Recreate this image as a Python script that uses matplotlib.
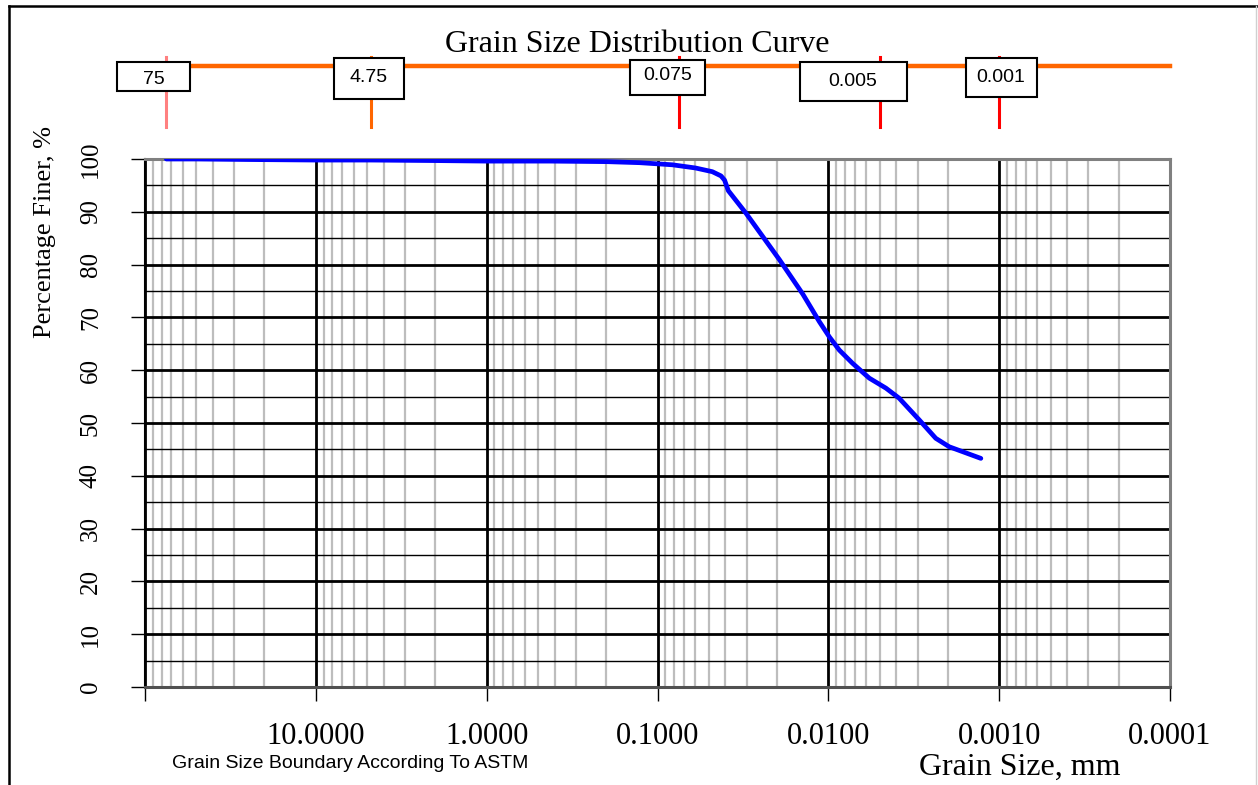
import numpy as np
import matplotlib
matplotlib.use("Agg")
import matplotlib.pyplot as plt
from matplotlib.lines import Line2D
from matplotlib.patches import Rectangle
from matplotlib.transforms import blended_transform_factory
from matplotlib.ticker import FixedLocator, NullFormatter

# ---- data ----
grain_size = [75, 50, 25, 10, 4.75, 2, 1, 0.425, 0.2, 0.127, 0.0817, 0.0600,
              0.0478, 0.0425, 0.0405, 0.0395, 0.0385, 0.0303, 0.0193, 0.0141,
              0.01129, 0.00986, 0.00862, 0.00721, 0.00576, 0.00460, 0.00385,
              0.00294, 0.00235, 0.00196, 0.00128]
percent_finer = [100, 100, 99.9, 99.8, 99.8, 99.7, 99.6, 99.6, 99.5, 99.3, 98.9, 98.3,
                 97.6, 96.8, 96.0, 95.0, 94.0, 89.7, 80.9, 74.4,
                 69.2, 66.3, 63.8, 61.3, 58.5, 56.6, 54.7,
                 50.6, 47.1, 45.5, 43.3]

x_ticks = [100, 10, 1, 0.1, 0.01, 0.001, 0.0001]
x_tick_labels = ["", "10.0000", "1.0000", "0.1000", "0.0100", "0.0010", "0.0001"]
y_ticks = [0, 10, 20, 30, 40, 50, 60, 70, 80, 90, 100]

boundary_sizes = [75, 4.75, 0.075, 0.005, 0.001]
boundary_labels = ["75", "4.75", "0.075", "0.005", "0.001"]
boundary_colors = ["#FF8080", "#FF6600", "#FF0000", "#FF0000", "#FF0000"]
# label box layout in pixels: (left, top, right, bottom, text_cx, text_cy)
boundary_boxes = [(117, 62, 190, 91, 154, 80),
                  (334, 58, 404, 99, 369, 77),
                  (630, 60, 705, 95, 668, 75),
                  (800, 62, 907, 101, 853, 81),
                  (966, 58, 1037, 97, 1001, 78)]

W, H = 1258, 785
def fx(px):
    return px / W
def fy(py):
    return 1 - py / H

serif = ["Liberation Serif", "DejaVu Serif"]
sans = ["Liberation Sans", "DejaVu Sans"]

fig = plt.figure(figsize=(W / 100, H / 100), dpi=100)
ax = fig.add_axes([fx(145), fy(687), fx(1170) - fx(145), fy(159) - fy(687)])

ax.set_xscale("log")
ax.set_xlim(100, 0.0001)
ax.set_ylim(0, 100)

# grid
minor_x = [m * 10.0 ** e for e in range(-4, 2) for m in range(2, 10)]
for v in minor_x:
    ax.axvline(v, color="#BDBDBD", lw=1.6, zorder=1)
for v in x_ticks:
    ax.axvline(v, color="black", lw=2.0, zorder=2)
for v in range(5, 100, 10):
    ax.axhline(v, color="black", lw=1.0, zorder=2)
for v in y_ticks:
    ax.axhline(v, color="black", lw=2.0, zorder=2)

ax.plot(grain_size, percent_finer, color="#0000FF", lw=3.4, zorder=5,
        solid_capstyle="round", solid_joinstyle="round")

ax.xaxis.set_major_locator(FixedLocator(x_ticks))
ax.xaxis.set_minor_locator(FixedLocator([]))
ax.xaxis.set_minor_formatter(NullFormatter())
ax.set_xticklabels(x_tick_labels)
ax.set_yticks(y_ticks)
ax.set_yticklabels([str(v) for v in y_ticks], rotation=90, va="center")

ax.tick_params(axis="x", direction="out", length=10, width=1, pad=15,
               labelsize=22)
ax.tick_params(axis="y", direction="out", length=10, width=1, pad=21,
               labelsize=18)
for lab in ax.get_xticklabels() + ax.get_yticklabels():
    lab.set_family(serif)

for side in ["top", "right", "bottom"]:
    ax.spines[side].set_color("#808080")
    ax.spines[side].set_linewidth(2.2)
ax.spines["left"].set_color("black")
ax.spines["left"].set_linewidth(1.5)
ax.spines["bottom"].set_color("#505050")

# texts
fig.text(fx(637), fy(44), "Grain Size Distribution Curve", family=serif,
         fontsize=23, ha="center", va="center")
fig.text(fx(45), fy(232), "Percentage Finer, %", family=serif, fontsize=19,
         rotation=90, ha="center", va="center")
fig.text(fx(172), fy(764), "Grain Size Boundary According To ASTM", family=sans,
         fontsize=14, ha="left", va="center")
fig.text(fx(1020), fy(767), "Grain Size, mm", family=serif, fontsize=23,
         ha="center", va="center")

# ASTM boundary bar
bt = blended_transform_factory(ax.transData, fig.transFigure)
ba = blended_transform_factory(ax.transAxes, fig.transFigure)
fig.add_artist(Line2D([0.005, 1.0], [fy(66), fy(66)], transform=ba,
                      color="#FF6600", lw=3.2, zorder=2))
for s, c in zip(boundary_sizes, boundary_colors):
    fig.add_artist(Line2D([s, s], [fy(57), fy(127)], transform=bt,
                          color=c, lw=2.2, zorder=3))
for lab, (l, t, r, b, tx, ty) in zip(boundary_labels, boundary_boxes):
    fig.add_artist(Rectangle((fx(l), fy(b)), fx(r) - fx(l), fy(t) - fy(b),
                             transform=fig.transFigure, facecolor="white",
                             edgecolor="black", lw=1.5, zorder=4))
    fig.text(fx(tx), fy(ty), lab, family=sans, fontsize=14, ha="center",
             va="center", zorder=5)

# outer frame
fig.add_artist(Line2D([fx(9), fx(9)], [fy(6), 0], transform=fig.transFigure,
                      color="black", lw=1.8))
fig.add_artist(Line2D([fx(9), 1], [fy(6), fy(6)], transform=fig.transFigure,
                      color="black", lw=1.8))
fig.add_artist(Line2D([fx(1256), fx(1256)], [fy(6), 0], transform=fig.transFigure,
                      color="#D0D0D0", lw=1.0))

fig.savefig("out.png", dpi=100)
